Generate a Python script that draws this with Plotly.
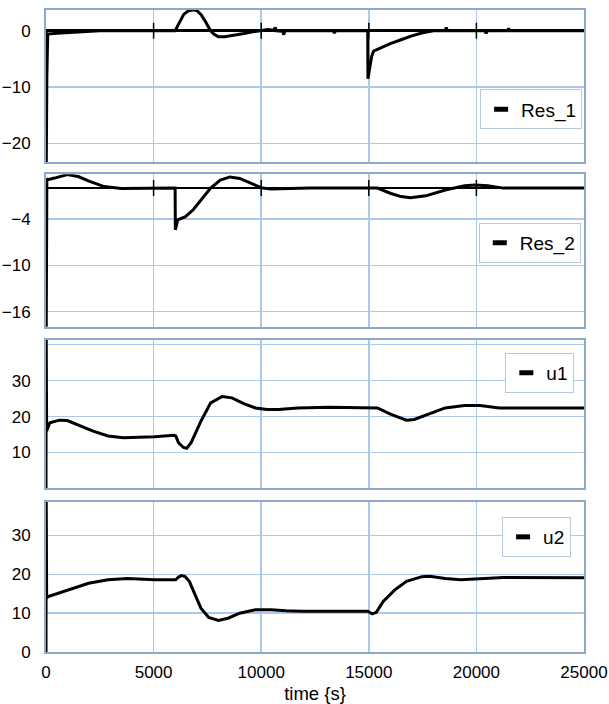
import plotly.graph_objects as go
from plotly.subplots import make_subplots

# ---------------- data ----------------
res1_t = [0, 10, 40, 80, 500, 1000, 1500, 2000, 2500, 6000, 6200, 6400, 6600, 6840, 7000, 7200, 7400,
          7650, 7800, 8000, 8300, 8700, 9200, 9600, 10000, 10300, 10600, 10650, 10700, 11000, 11050, 11100,
          13350, 13400, 13450, 14950, 14960, 15130, 15220, 15500, 16000, 16500, 17000, 17500, 18000,
          18550, 18600, 18650, 20400, 20450, 20500, 21450, 21500, 21550, 25000]
res1_v = [0, -25, -8, -0.6, -0.45, -0.35, -0.25, -0.15, 0, 0, 1.6, 2.9, 3.5, 3.7, 3.6, 2.9, 1.7,
          0, -0.6, -1.05, -1.05, -0.85, -0.5, -0.2, 0.1, 0.2, 0.1, 0.6, 0, -0.1, -0.7, 0,
          0, -0.4, 0, 0, -8.5, -4.6, -3.6, -3.1, -2.3, -1.6, -0.9, -0.35, 0,
          0, 0.6, 0, 0, -0.5, 0, 0, 0.4, 0, 0]

res2_t = [0, 10, 40, 100, 400, 990, 1500, 2000, 2700, 3500, 6000, 6010, 6120, 6480, 6840, 7200, 7650,
          8100, 8550, 9000, 9550, 10000, 10450, 12250, 14950, 15400, 16030, 16500, 16930, 17650, 18550,
          19450, 19950, 20530, 21250, 25000]
res2_v = [0, -19, 1.2, 1.1, 1.3, 1.75, 1.5, 0.9, 0.2, -0.05, 0, -5.4, -4.1, -3.7, -2.8, -1.5, 0,
          1.05, 1.45, 1.25, 0.6, 0.05, -0.13, 0, 0, 0, -0.7, -1.1, -1.25, -1.0, -0.25,
          0.3, 0.4, 0.3, 0, 0]

u1_t = [0, 10, 30, 180, 630, 990, 1440, 2160, 2880, 3600, 5040, 5940, 6030, 6160, 6390, 6540, 6750,
        7200, 7650, 8190, 8640, 9190, 9730, 10270, 10800, 11700, 13150, 15130, 15400, 16030, 16750,
        17110, 17650, 18550, 19450, 20170, 21070, 22150, 25000]
u1_v = [0, 42, 16, 18.3, 19.0, 18.9, 17.8, 16.0, 14.6, 14.1, 14.4, 14.8, 14.6, 12.7, 11.4, 11.2, 12.8,
        18.7, 23.8, 25.6, 25.2, 23.6, 22.4, 22.0, 22.0, 22.4, 22.6, 22.6, 22.4, 20.6, 19.0,
        19.2, 20.4, 22.4, 23.1, 23.1, 22.4, 22.4, 22.4]

u2_t = [0, 10, 30, 100, 990, 1980, 2880, 3780, 5040, 6030, 6160, 6300, 6450, 6660, 6930, 7200, 7560,
        8010, 8460, 9000, 9730, 10450, 11170, 11890, 13330, 14950, 15160, 15350, 15670, 16210, 16750,
        17470, 17830, 18550, 19270, 20350, 21250, 25000]
u2_v = [0, 40, 13.9, 14.3, 16.0, 17.7, 18.6, 18.9, 18.6, 18.6, 19.3, 19.7, 19.5, 18.2, 14.7, 11.3, 8.9,
        8.1, 8.7, 10.0, 10.9, 10.9, 10.6, 10.5, 10.5, 10.5, 9.8, 10.2, 13.0, 16.0, 18.2,
        19.4, 19.5, 18.9, 18.6, 18.9, 19.2, 19.1]

series_names = ["Res_1", "Res_2", "u1", "u2"]

x_ticks = [0, 5000, 10000, 15000, 20000, 25000]
x_tick_text = ["0", "5000", "10000", "15000", "20000", "25000"]
axis_cross_ticks = [5000, 10000, 15000, 20000]

y1_ticks = [0, -10, -20]
y2_ticks = [-4, -10, -16]
y3_ticks = [0, 10, 20, 30, 40]
y3_text = ["", "10", "20", "30", ""]
y4_ticks = [0, 10, 20, 30]

# ---------------- figure ----------------
FONT = "Liberation Sans, Arial, sans-serif"
BORDER = "#8ea9c8"
GRID = "#abc9ea"
TICK_SIZE = 17

fig = make_subplots(rows=4, cols=1, shared_xaxes=False, vertical_spacing=0.0)

domains = [[0.7632, 1.0], [0.5067, 0.7441], [0.2547, 0.4860], [0.0, 0.2341]]
yranges = [[-23.3, 3.68], [-17.94, 1.79], [0.0, 41.3], [0.0, 38.7]]

data = [(res1_t, res1_v), (res2_t, res2_v), (u1_t, u1_v), (u2_t, u2_v)]
# legend boxes: right edge and top edge (paper coordinates)
legend_pos = [(0.9965, 0.8762), (0.994, 0.6683), (0.982, 0.4658), (0.976, 0.2103)]

for i, ((t, v), name) in enumerate(zip(data, series_names)):
    row = i + 1
    lg = "legend" if i == 0 else f"legend{i+1}"
    fig.add_trace(go.Scatter(x=t, y=v, mode="lines", line=dict(color="black", width=3),
                             showlegend=False, hoverinfo="skip"), row=row, col=1)
    fig.add_trace(go.Scatter(x=[None], y=[None], mode="markers", name=name,
                             marker=dict(symbol="line-ew", size=10, color="black",
                                         line=dict(color="black", width=6)),
                             legend=lg, showlegend=True), row=row, col=1)
    lx, ly = legend_pos[i]
    fig.update_layout(**{lg: dict(x=lx, y=ly, xanchor="right", yanchor="top",
                                  bgcolor="white", bordercolor="#b7c8dc", borderwidth=1,
                                  font=dict(family=FONT, size=19, color="black"),
                                  itemwidth=30)})

for i in range(4):
    row = i + 1
    fig.update_xaxes(row=row, col=1, range=[0, 25000], tickvals=x_ticks, ticktext=x_tick_text,
                     showticklabels=(row == 4), showgrid=True, gridcolor=GRID, gridwidth=1.5,
                     showline=True, mirror=True, linecolor=BORDER, linewidth=2,
                     zeroline=False, ticks="", automargin=False,
                     tickfont=dict(family=FONT, size=TICK_SIZE, color="black"))
    fig.update_yaxes(row=row, col=1, range=yranges[i], domain=domains[i],
                     showgrid=True, gridcolor=GRID, gridwidth=1.5,
                     showline=True, mirror=True, linecolor=BORDER, linewidth=2,
                     zeroline=(row <= 2), zerolinecolor="black", zerolinewidth=2.5,
                     ticks="", ticklabelstandoff=10, automargin=False,
                     tickfont=dict(family=FONT, size=TICK_SIZE, color="black"))

fig.update_yaxes(row=1, col=1, tickvals=y1_ticks)
fig.update_yaxes(row=2, col=1, tickvals=y2_ticks)
fig.update_yaxes(row=3, col=1, tickvals=y3_ticks, ticktext=y3_text)
fig.update_yaxes(row=4, col=1, tickvals=y4_ticks)
fig.update_xaxes(row=4, col=1, title=dict(text="time {s}", font=dict(family=FONT, size=18.5, color="black"),
                                          standoff=8),
                 ticklabelstandoff=4)

# tick marks crossing the zero axis in the two residual panels
for row in (1, 2):
    xr = "x" if row == 1 else f"x{row}"
    yr = "y" if row == 1 else f"y{row}"
    for tx in axis_cross_ticks:
        fig.add_shape(type="line", xref=xr, yref=yr, x0=tx, x1=tx,
                      ysizemode="pixel", yanchor=0, y0=-8, y1=8,
                      line=dict(color="black", width=1.5))

fig.update_layout(width=609, height=704, margin=dict(l=46, r=25, t=10, b=52),
                  plot_bgcolor="white", paper_bgcolor="white",
                  font=dict(family=FONT, size=17, color="black"))

fig.write_html("out.html", config={"displayModeBar": False, "staticPlot": True},
               post_script="document.body.style.margin='0px';document.body.style.overflow='hidden';")
